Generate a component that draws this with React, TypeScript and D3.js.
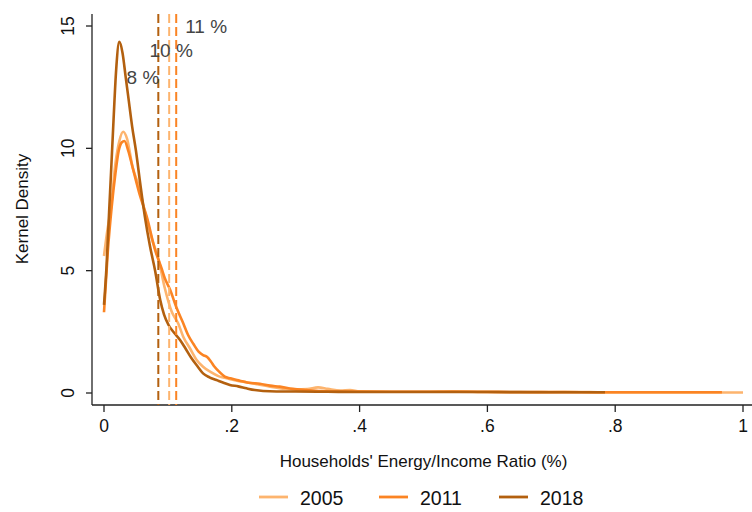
import { useEffect, useRef } from 'react';
import * as d3 from 'd3';

// kernel density curves: [ratio, density]
const years = ['2005', '2011', '2018'];
const colors = ['#fdb46e', '#fb8423', '#b3600f'];

const dens2005: [number, number][] = [
  [0, 5.6], [0.005, 6.6], [0.011, 7.6], [0.018, 9.4], [0.024, 10.3], [0.03, 10.68], [0.036, 10.4],
  [0.045, 9.2], [0.054, 8.5], [0.065, 7.3], [0.075, 6.3], [0.085, 5.5], [0.095, 4.3], [0.106, 3.32],
  [0.116, 2.85], [0.124, 2.3], [0.134, 1.85], [0.145, 1.35], [0.155, 1.07], [0.166, 0.87],
  [0.18, 0.68], [0.192, 0.6], [0.208, 0.5], [0.223, 0.44], [0.24, 0.36], [0.26, 0.26], [0.28, 0.18],
  [0.3, 0.15], [0.318, 0.16], [0.335, 0.23], [0.35, 0.17], [0.37, 0.1], [0.385, 0.12], [0.4, 0.07],
  [0.45, 0.05], [0.5, 0.05], [0.546, 0.07], [0.6, 0.04], [0.65, 0.03], [0.72, 0.05], [0.8, 0.02],
  [0.9, 0.02], [1.0, 0.02],
];

const dens2011: [number, number][] = [
  [0, 3.3], [0.006, 5.8], [0.012, 7.6], [0.018, 9.0], [0.023, 9.9], [0.028, 10.25], [0.032, 10.3],
  [0.038, 9.9], [0.045, 9.2], [0.056, 8.1], [0.067, 7.2], [0.08, 5.84], [0.09, 5.1], [0.095, 4.7],
  [0.103, 4.25], [0.114, 3.45], [0.124, 2.85], [0.132, 2.35], [0.14, 2.0], [0.148, 1.69],
  [0.155, 1.55], [0.161, 1.48], [0.167, 1.3], [0.173, 1.07], [0.181, 0.85], [0.189, 0.67],
  [0.198, 0.6], [0.208, 0.53], [0.218, 0.47], [0.226, 0.42], [0.244, 0.38], [0.26, 0.3],
  [0.275, 0.26], [0.295, 0.17], [0.317, 0.12], [0.34, 0.08], [0.38, 0.06], [0.45, 0.05],
  [0.55, 0.05], [0.65, 0.04], [0.75, 0.03], [0.85, 0.03], [0.967, 0.03],
];

const dens2018: [number, number][] = [
  [0, 3.6], [0.004, 5.2], [0.008, 7.4], [0.011, 9.0], [0.015, 11.2], [0.019, 13.2], [0.024, 14.35],
  [0.029, 13.9], [0.034, 12.9], [0.038, 12.1], [0.044, 10.9], [0.05, 9.9], [0.057, 8.5],
  [0.064, 7.2], [0.072, 6.0], [0.08, 5.0], [0.088, 3.8], [0.094, 3.2], [0.101, 2.78], [0.11, 2.45],
  [0.119, 2.17], [0.128, 1.8], [0.137, 1.42], [0.146, 1.1], [0.155, 0.8], [0.165, 0.64],
  [0.176, 0.53], [0.187, 0.42], [0.197, 0.33], [0.21, 0.27], [0.223, 0.19], [0.236, 0.12],
  [0.249, 0.08], [0.27, 0.06], [0.3, 0.06], [0.35, 0.05], [0.4, 0.04], [0.5, 0.04], [0.6, 0.04],
  [0.7, 0.03], [0.784, 0.03],
];

const series = [dens2005, dens2011, dens2018];

// mean burden markers (dashed lines)
const markerLabels = ['8 %', '10 %', '11 %'];
const markerValues = [0.085, 0.102, 0.113];
const markerColorIdx = [2, 0, 1];
const markerLabelY = [12.9, 14.0, 15.0];

const xTicks = [0, 0.2, 0.4, 0.6, 0.8, 1];
const yTicks = [0, 5, 10, 15];

const W = 752;
const H = 512;

export default function App() {
  const svgRef = useRef<SVGSVGElement>(null);

  useEffect(() => {
    const svg = d3.select(svgRef.current);
    svg.selectAll('*').remove();
    const font = '"Liberation Sans", Arial, Helvetica, sans-serif';

    const x = d3.scaleLinear().domain([0, 1]).range([104, 743]);
    const y = d3.scaleLinear().domain([0, 15]).range([393, 26]);
    const axisX = 92;
    const axisY = 405;
    const top = 14;

    // axes lines
    svg.append('line').attr('x1', axisX).attr('x2', axisX).attr('y1', top).attr('y2', axisY)
      .attr('stroke', '#222').attr('stroke-width', 1.3);
    svg.append('line').attr('x1', axisX).attr('x2', W).attr('y1', axisY).attr('y2', axisY)
      .attr('stroke', '#222').attr('stroke-width', 1.3);

    // y ticks (rotated labels, Stata style)
    const yg = svg.append('g');
    yTicks.forEach(t => {
      yg.append('line').attr('x1', axisX - 6).attr('x2', axisX).attr('y1', y(t)).attr('y2', y(t))
        .attr('stroke', '#222').attr('stroke-width', 1.3);
      yg.append('text')
        .attr('transform', `translate(68, ${y(t)}) rotate(-90)`)
        .attr('text-anchor', 'middle')
        .attr('dominant-baseline', 'central')
        .style('font-family', font).style('font-size', '17.5px').style('fill', '#111')
        .text(d3.format('d')(t));
    });

    // x ticks
    const fmtX = (v: number) => (v === 0 ? '0' : v === 1 ? '1' : d3.format('.1f')(v).replace(/^0/, ''));
    const xg = svg.append('g');
    xTicks.forEach(t => {
      xg.append('line').attr('x1', x(t)).attr('x2', x(t)).attr('y1', axisY).attr('y2', axisY + 7)
        .attr('stroke', '#222').attr('stroke-width', 1.3);
      xg.append('text')
        .attr('x', x(t)).attr('y', axisY + 21)
        .attr('text-anchor', 'middle')
        .attr('dominant-baseline', 'central')
        .style('font-family', font).style('font-size', '17.5px').style('fill', '#111')
        .text(fmtX(t));
    });

    // axis titles
    svg.append('text')
      .attr('x', (x(0) + x(1)) / 2).attr('y', 461)
      .attr('text-anchor', 'middle').attr('dominant-baseline', 'central')
      .style('font-family', font).style('font-size', '17px').style('fill', '#111')
      .text("Households' Energy/Income Ratio (%)");
    svg.append('text')
      .attr('transform', `translate(22, 209) rotate(-90)`)
      .attr('text-anchor', 'middle').attr('dominant-baseline', 'central')
      .style('font-family', font).style('font-size', '17px').style('fill', '#111')
      .text('Kernel Density');

    // density lines
    const line = d3.line<[number, number]>()
      .x(d => x(d[0]))
      .y(d => y(d[1]))
      .curve(d3.curveMonotoneX);
    svg.append('g')
      .selectAll('path')
      .data(series)
      .join('path')
      .attr('d', d => line(d))
      .attr('fill', 'none')
      .attr('stroke', (_, i) => colors[i])
      .attr('stroke-width', 2.6)
      .attr('stroke-linejoin', 'round');

    // dashed markers
    const mg = svg.append('g');
    markerValues.forEach((v, i) => {
      mg.append('line')
        .attr('x1', x(v)).attr('x2', x(v)).attr('y1', top).attr('y2', axisY)
        .attr('stroke', colors[markerColorIdx[i]])
        .attr('stroke-width', 2)
        .attr('stroke-dasharray', '9 4');
    });
    const labelAnchor = ['end', 'middle', 'start'];
    const labelDx = [1, 2, 9];
    markerValues.forEach((v, i) => {
      mg.append('text')
        .attr('x', x(v) + labelDx[i]).attr('y', y(markerLabelY[i]))
        .attr('text-anchor', labelAnchor[i]).attr('dominant-baseline', 'central')
        .style('font-family', font).style('font-size', '19px').style('fill', '#444')
        .text(markerLabels[i]);
    });

    // legend
    const legendX = [259, 379, 499];
    const lg = svg.append('g');
    years.forEach((yr, i) => {
      lg.append('line')
        .attr('x1', legendX[i]).attr('x2', legendX[i] + 29).attr('y1', 497).attr('y2', 497)
        .attr('stroke', colors[i]).attr('stroke-width', 2.8);
      lg.append('text')
        .attr('x', legendX[i] + 41).attr('y', 498)
        .attr('dominant-baseline', 'central')
        .style('font-family', font).style('font-size', '19.5px').style('fill', '#111')
        .text(yr);
    });
  }, []);

  return (
    <div style={{ position: 'absolute', left: 0, top: 0, background: '#fff' }}>
      <svg ref={svgRef} width={W} height={H} style={{ display: 'block' }} />
    </div>
  );
}
